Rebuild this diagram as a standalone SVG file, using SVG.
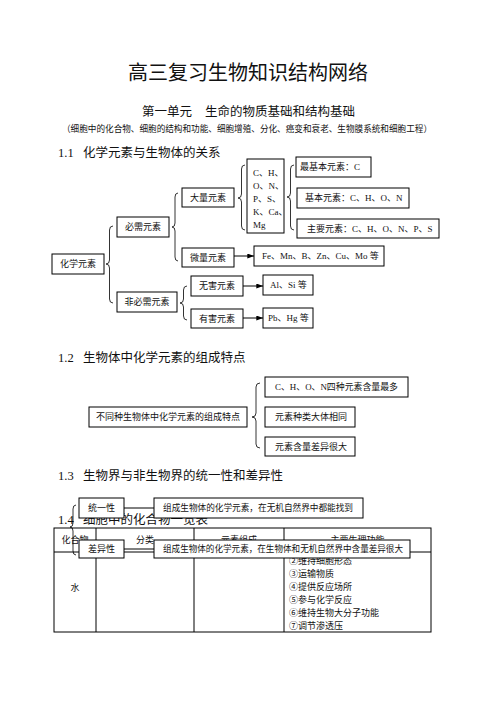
<svg xmlns="http://www.w3.org/2000/svg" width="496" height="702" viewBox="0 0 496 702">
<style>
.bg{fill:#fff}
.bx{fill:#fff;stroke:#000;stroke-width:1}
.ln{fill:none;stroke:#000;stroke-width:1}
.br{fill:none;stroke:#000;stroke-width:0.8}
.t{font-family:"Liberation Serif","Noto Sans CJK SC",serif;font-size:9px;fill:#111}
.c{text-anchor:middle}
.h{font-family:"Liberation Serif","Noto Sans CJK SC",serif;font-size:12.5px;fill:#111}
.ti{font-family:"Noto Sans CJK SC","Liberation Sans",sans-serif;fill:#111}
</style>
<defs>
<marker id="ar" viewBox="0 0 8 6" refX="8" refY="3" markerWidth="7" markerHeight="5" markerUnits="userSpaceOnUse" orient="auto">
<path d="M0,0 L8,3 L0,6 z" fill="#000"/>
</marker>
</defs>
<rect class="bg" x="0" y="0" width="496" height="702"/>

<g id="headings">
<text class="ti" x="248" y="80" font-size="20" text-anchor="middle">高三复习生物知识结构网络</text>
<text class="ti" y="116" font-size="12.5"><tspan x="142">第一单元　</tspan><tspan x="205">生命的物质基础和结构基础</tspan></text>
<text class="t" x="62" y="132" font-size="8.6" textLength="370" lengthAdjust="spacingAndGlyphs">（细胞中的化合物、细胞的结构和功能、细胞增殖、分化、癌变和衰老、生物膜系统和细胞工程）</text>
<text class="h" y="157"><tspan x="58">1.1 </tspan><tspan x="83">化学元素与生物体的关系</tspan></text>
<text class="h" y="362"><tspan x="58">1.2 </tspan><tspan x="83">生物体中化学元素的组成特点</tspan></text>
<text class="h" y="480"><tspan x="58">1.3 </tspan><tspan x="83">生物界与非生物界的统一性和差异性</tspan></text>
<text class="h" y="524"><tspan x="58">1.4 </tspan><tspan x="83">细胞中的化合物一览表</tspan></text>
</g>

<g id="table">
<rect class="ln" x="54" y="528" width="377" height="104"/>
<line class="ln" x1="96" y1="528" x2="96" y2="632"/>
<line class="ln" x1="194" y1="528" x2="194" y2="632"/>
<line class="ln" x1="284" y1="528" x2="284" y2="632"/>
<line class="ln" x1="54" y1="552" x2="431" y2="552"/>
<text class="t c" x="75" y="543">化合物</text>
<text class="t c" x="145" y="543">分类</text>
<text class="t c" x="239" y="543">元素组成</text>
<text class="t c" x="357.5" y="543">主要生理功能</text>
<text class="t c" x="75" y="591">水</text>
<text class="t" x="289" y="564">②维持细胞形态</text>
<text class="t" x="289" y="577">③运输物质</text>
<text class="t" x="289" y="590">④提供反应场所</text>
<text class="t" x="289" y="603">⑤参与化学反应</text>
<text class="t" x="289" y="616">⑥维持生物大分子功能</text>
<text class="t" x="289" y="629">⑦调节渗透压</text>
</g>

<g id="connectors">
<path class="br" d="M113,226 Q109.5,226 109.5,230 L109.5,260 Q109.5,264 106,264 Q109.5,264 109.5,268 L109.5,299 Q109.5,303 113,303"/>
<path class="br" d="M178,193 Q175,193 175,197 L175,223 Q175,227 172,227 Q175,227 175,231 L175,257 Q175,261 178,261"/>
<path class="br" d="M245,165 Q241.5,165 241.5,169 L241.5,194 Q241.5,198 238,198 Q241.5,198 241.5,202 L241.5,226 Q241.5,230 245,230"/>
<path class="br" d="M294,165 Q290.5,165 290.5,169 L290.5,193 Q290.5,197 287,197 Q290.5,197 290.5,201 L290.5,226 Q290.5,230 294,230"/>
<path class="br" d="M187,286 Q183.5,286 183.5,290 L183.5,299 Q183.5,303 180,303 Q183.5,303 183.5,307 L183.5,316 Q183.5,320 187,320"/>
<path class="br" d="M260,383 Q256,383 256,387 L256,413 Q256,417 252,417 Q256,417 256,421 L256,444 Q256,448 260,448"/>
<path class="br" d="M76,505 Q73,505 73,509 L73,523 Q73,527 70,527 Q73,527 73,531 L73,551 Q73,555 76,555"/>
<line class="ln" x1="234" y1="256" x2="254" y2="256" marker-end="url(#ar)"/>
<line class="ln" x1="243" y1="286" x2="263" y2="286" marker-end="url(#ar)"/>
<line class="ln" x1="243" y1="318" x2="263" y2="318" marker-end="url(#ar)"/>
<line class="ln" x1="124" y1="508" x2="154" y2="508"/>
<line class="ln" x1="124" y1="549" x2="154" y2="549"/>
</g>

<g id="n-huaxueyuansu"><rect class="bx" x="52" y="254" width="52" height="20"/><text class="t c" x="78" y="267">化学元素</text></g>
<g id="n-bixu"><rect class="bx" x="117" y="217" width="52" height="20"/><text class="t c" x="143" y="230">必需元素</text></g>
<g id="n-feibixu"><rect class="bx" x="117" y="292" width="60" height="20"/><text class="t c" x="147" y="305">非必需元素</text></g>
<g id="n-daliang"><rect class="bx" x="182" y="188" width="52" height="19"/><text class="t c" x="208" y="200.5">大量元素</text></g>
<g id="n-weiliang"><rect class="bx" x="182" y="248" width="52" height="19"/><text class="t c" x="208" y="260.5">微量元素</text></g>
<g id="n-wuhai"><rect class="bx" x="191" y="276" width="52" height="20"/><text class="t c" x="217" y="289">无害元素</text></g>
<g id="n-youhai"><rect class="bx" x="191" y="309" width="52" height="19"/><text class="t c" x="217" y="321.5">有害元素</text></g>
<g id="n-cho"><rect class="bx" x="247" y="159" width="37" height="74"/>
<text class="t" x="253" y="175.5">C、H、</text>
<text class="t" x="253" y="188.5">O、N、</text>
<text class="t" x="253" y="201.5">P、S、</text>
<text class="t" x="253" y="214.5">K、Ca、</text>
<text class="t" x="253" y="227.5">Mg</text></g>
<g id="n-zuijiben"><rect class="bx" x="296" y="157" width="75" height="20"/><text class="t" x="300" y="170">最基本元素：C</text></g>
<g id="n-jiben"><rect class="bx" x="297" y="188" width="112" height="20"/><text class="t" x="305" y="201">基本元素：C、H、O、N</text></g>
<g id="n-zhuyao"><rect class="bx" x="297" y="219" width="142" height="19"/><text class="t" x="307" y="232">主要元素：C、H、O、N、P、S</text></g>
<g id="n-fe"><rect class="bx" x="254" y="246" width="130" height="20"/><text class="t" x="262" y="259">Fe、Mn、B、Zn、Cu、Mo 等</text></g>
<g id="n-al"><rect class="bx" x="263" y="275" width="50" height="20"/><text class="t" x="270" y="288">Al、Si 等</text></g>
<g id="n-pb"><rect class="bx" x="263" y="308" width="50" height="20"/><text class="t" x="268" y="321">Pb、Hg 等</text></g>

<g id="n-tedian"><rect class="bx" x="89" y="407" width="158" height="20"/><text class="t c" x="168" y="420">不同种生物体中化学元素的组成特点</text></g>
<g id="n-sizhong"><rect class="bx" x="265" y="377" width="143" height="20"/><text class="t" x="275" y="390" textLength="123" lengthAdjust="spacingAndGlyphs">C、H、O、N四种元素含量最多</text></g>
<g id="n-zhonglei"><rect class="bx" x="265" y="407" width="90" height="20"/><text class="t" x="275" y="420">元素种类大体相同</text></g>
<g id="n-hanliang"><rect class="bx" x="265" y="437" width="90" height="19"/><text class="t" x="275" y="449.5">元素含量差异很大</text></g>

<g id="n-tongyi"><rect class="bx" x="79" y="498" width="45" height="20"/><text class="t c" x="101.5" y="511">统一性</text></g>
<g id="n-tongyi-desc"><rect class="bx" x="154" y="498" width="209" height="20"/><text class="t" x="163" y="511" textLength="190" lengthAdjust="spacingAndGlyphs">组成生物体的化学元素，在无机自然界中都能找到</text></g>
<g id="n-chayi"><rect class="bx" x="79" y="540" width="45" height="18"/><text class="t c" x="101.5" y="552">差异性</text></g>
<g id="n-chayi-desc"><rect class="bx" x="154" y="540" width="256" height="18"/><text class="t" x="163" y="552" textLength="240" lengthAdjust="spacingAndGlyphs">组成生物体的化学元素，在生物体和无机自然界中含量差异很大</text></g>
</svg>
